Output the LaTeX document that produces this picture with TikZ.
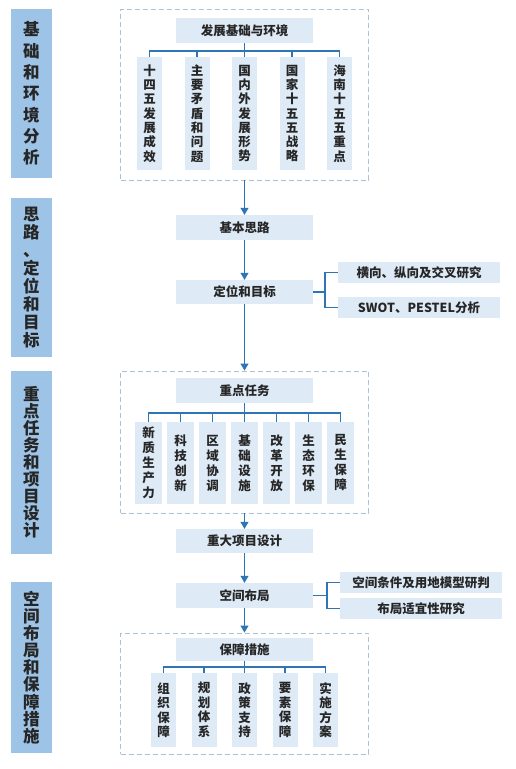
\documentclass[tikz,border=0pt]{standalone}
\usepackage{fontspec}
\setmainfont{Noto Sans CJK SC}
\usetikzlibrary{arrows.meta}
\definecolor{barfill}{HTML}{9DC3E6}
\definecolor{boxfill}{HTML}{DEEBF7}
\definecolor{linec}{HTML}{2E75B6}
\definecolor{dashc}{HTML}{ADC1D6}
\definecolor{txt}{HTML}{262626}
\tikzset{
  sidebar/.style={fill=barfill, inner sep=0pt, minimum width=41pt, text=txt, align=center},
  hbox/.style={fill=boxfill, inner sep=0pt, minimum width=137pt, minimum height=25pt, text=txt,
    font=\bfseries\fontsize{12.5}{14}\selectfont},
  rbox/.style={fill=boxfill, inner sep=0pt, minimum width=162pt, minimum height=21pt, text=txt,
    font=\bfseries\fontsize{12.5}{14}\selectfont},
  vbox/.style={fill=boxfill, inner sep=0pt, text=txt, align=center},
  conn/.style={draw=linec, line width=1.1pt},
  arr/.style={conn, -{Triangle[width=8pt,length=7pt]}},
  dbox/.style={draw=dashc, dash pattern=on 5pt off 3pt, line width=0.9pt, inner sep=0pt, minimum width=248pt},
}
\begin{document}
\begin{tikzpicture}[x=1pt,y=-1pt]
\useasboundingbox[fill=white] (0,0) rectangle (515,769);

% side bars
\node[sidebar, minimum height=169pt, font=\bfseries\fontsize{16.5}{21.3}\selectfont] (s1) at (31.5,93.5) {基\\础\\和\\环\\境\\分\\析};
\node[sidebar, minimum height=159pt, font=\bfseries\fontsize{16.5}{18}\selectfont] (s2) at (31.5,277.5) {思\\路\\、\\定\\位\\和\\目\\标};
\node[sidebar, minimum height=183pt, font=\bfseries\fontsize{16.5}{17}\selectfont] (s3) at (31.5,462.5) {重\\点\\任\\务\\和\\项\\目\\设\\计};
\node[sidebar, minimum height=171pt, font=\bfseries\fontsize{16.5}{17.1}\selectfont] (s4) at (31.5,667.5) {空\\间\\布\\局\\和\\保\\障\\措\\施};

% group 1
\node[dbox, minimum height=171pt] (g1) at (244.5,94.5) {};
\node[hbox] (h1) at (244.5,30.5) {发展基础与环境};
\tikzset{v1/.style={vbox, minimum width=25pt, minimum height=113pt, font=\bfseries\fontsize{12.5}{14.3}\selectfont}}
\node[v1] (a1) at (149.5,113.5) {十\\四\\五\\发\\展\\成\\效};
\node[v1] (a2) at (197,113.5) {主\\要\\矛\\盾\\和\\问\\题};
\node[v1] (a3) at (244.5,113.5) {国\\内\\外\\发\\展\\形\\势};
\node[v1] (a4) at (292,113.5) {国\\家\\十\\五\\五\\战\\略};
\node[v1] (a5) at (339.5,113.5) {海\\南\\十\\五\\五\\重\\点};
\coordinate (b1) at (244.5,51);
\draw[conn] (h1.south) -- (b1);
\draw[conn] (a1.north) |- (b1) -| (a5.north);
\foreach \n in {a2,a3,a4} \draw[conn] (\n.north) -- (\n.north |- b1);

% group 2
\node[hbox] (jb) at (244.5,227.5) {基本思路};
\node[hbox, minimum height=24pt] (dw) at (244.5,292) {定位和目标};
\node[rbox] (r1) at (419,272.5) {横向、纵向及交叉研究};
\node[rbox] (r2) at (419,307.5) {SWOT、PESTEL分析};
\draw[arr] (g1.south) -- (jb.north);
\draw[arr] (jb.south) -- (dw.north);
\coordinate (k1) at (325,292);
\draw[conn] (dw.east) -- (k1);
\draw[conn] (r1.west) -| (k1) |- (r2.west);

% group 3
\node[dbox, minimum height=142pt] (g3) at (244.5,442) {};
\node[hbox] (h3) at (244.5,390.5) {重点任务};
\draw[arr] (dw.south) -- (g3.north);
\tikzset{v3/.style={vbox, minimum width=27pt, minimum height=82pt, font=\bfseries\fontsize{12.5}{15}\selectfont}}
\node[v3] (c1) at (148.5,463) {新\\质\\生\\产\\力};
\node[v3] (c2) at (180.5,463) {科\\技\\创\\新};
\node[v3] (c3) at (212.5,463) {区\\域\\协\\调};
\node[v3] (c4) at (244.5,463) {基\\础\\设\\施};
\node[v3] (c5) at (276.5,463) {改\\革\\开\\放};
\node[v3] (c6) at (308.5,463) {生\\态\\环\\保};
\node[v3] (c7) at (340.5,463) {民\\生\\保\\障};
\coordinate (b3) at (244.5,413);
\draw[conn] (h3.south) -- (b3);
\draw[conn] (c1.north) |- (b3) -| (c7.north);
\foreach \n in {c2,c3,c4,c5,c6} \draw[conn] (\n.north) -- (\n.north |- b3);

\node[hbox, minimum height=24pt] (zd) at (244.5,541) {重大项目设计};
\draw[arr] (g3.south) -- (zd.north);

% group 4
\node[hbox] (kj) at (244.5,595.5) {空间布局};
\draw[arr] (zd.south) -- (kj.north);
\node[rbox] (r3) at (421,582.5) {空间条件及用地模型研判};
\node[rbox] (r4) at (421,608.5) {布局适宜性研究};
\coordinate (k2) at (327,595.5);
\draw[conn] (kj.east) -- (k2);
\draw[conn] (r3.west) -| (k2) |- (r4.west);

\node[dbox, minimum height=121pt] (g4) at (244.5,693.5) {};
\draw[arr] (kj.south) -- (g4.north);
\node[hbox, minimum height=23pt] (h4) at (244.5,649.5) {保障措施};
\tikzset{v4/.style={vbox, minimum width=25pt, minimum height=74pt, font=\bfseries\fontsize{12.5}{14.5}\selectfont}}
\node[v4] (d1) at (163.5,710) {组\\织\\保\\障};
\node[v4] (d2) at (204,710) {规\\划\\体\\系};
\node[v4] (d3) at (244.5,710) {政\\策\\支\\持};
\node[v4] (d4) at (285,710) {要\\素\\保\\障};
\node[v4] (d5) at (325.5,710) {实\\施\\方\\案};
\coordinate (b4) at (244.5,667);
\draw[conn] (h4.south) -- (b4);
\draw[conn] (d1.north) |- (b4) -| (d5.north);
\foreach \n in {d2,d3,d4} \draw[conn] (\n.north) -- (\n.north |- b4);
\end{tikzpicture}
\end{document}
